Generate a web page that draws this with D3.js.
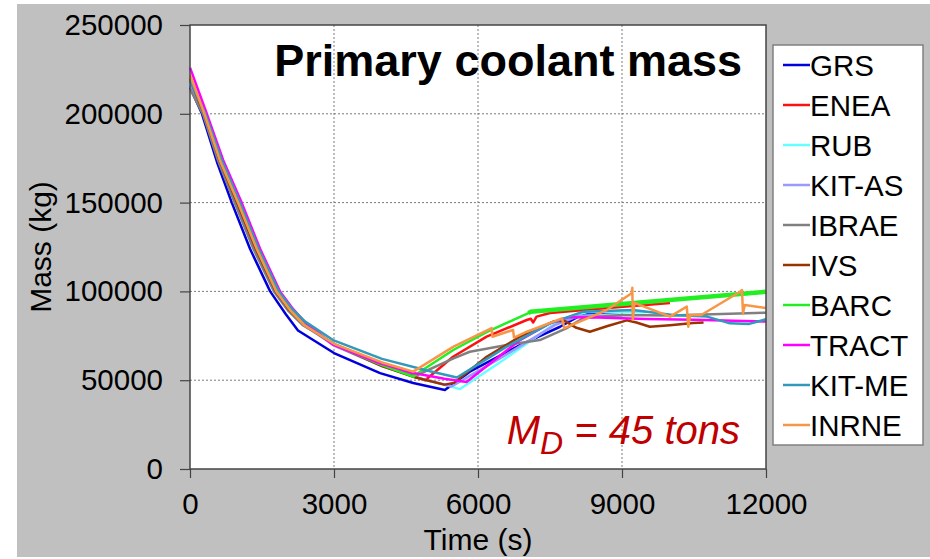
<!DOCTYPE html>
<html><head><meta charset="utf-8">
<script src="https://cdn.jsdelivr.net/npm/d3@7"></script>
<style>
body{margin:0;background:#fff;}
svg{display:block;}
text{font-family:"Liberation Sans",Arial,Helvetica,sans-serif;}
</style>
</head><body>
<svg id="chart" width="930" height="559"></svg>
<script>
// ---- data ----
const seriesNames = ["GRS","ENEA","RUB","KIT-AS","IBRAE","IVS","BARC","TRACT","KIT-ME","INRNE"];
const seriesColors = ["#0000dd","#ff1010","#66ffff","#9999ff","#808080","#993300","#22ee22","#ff00ff","#3399bb","#f79646"];
const xTickValues = [0,3000,6000,9000,12000];
const yTickValues = [0,50000,100000,150000,200000,250000];

const GRS = [[0,215000],[250,200000],[560,173000],[870,150000],[1250,124000],[1670,100000],[2000,87000],[2250,78000],[3000,65300],[3960,54000],[4650,48400],[5310,44500],[5830,54800],[6875,69800],[7710,80100],[8200,87500],[9000,88500]];
const ENEA = [[0,220000],[300,200000],[620,174000],[990,150000],[1380,124000],[1800,100000],[2100,89000],[2380,82000],[3000,70000],[4000,58500],[4900,50000],[5480,63200],[6180,74500],[7015,83900],[7100,84600],[7150,82500],[7220,85800],[7500,87800],[8500,90200],[10000,93500]];
const RUB = [[0,218000],[290,200000],[600,174000],[960,150000],[1350,124000],[1780,100000],[2080,89000],[2350,82000],[3000,70500],[4000,58500],[4650,52000],[5300,47500],[5625,45000],[6530,61400],[7710,83900],[8270,88400],[9000,88600],[9500,88300]];
const KITAS = [[0,216000],[280,200000],[590,174000],[940,150000],[1330,124000],[1760,100000],[2060,89000],[2350,81500],[3000,69500],[4000,58000],[4800,51000],[5450,46500],[6500,63000],[7600,81000],[8100,86300],[9000,86500]];
const IBRAE = [[0,214000],[270,200000],[580,174000],[930,150000],[1320,124000],[1750,100000],[2050,89000],[2350,81000],[3000,70500],[4000,59000],[4700,52500],[5490,62300],[5830,66000],[6600,69800],[7290,72600],[7850,79300],[8190,85000],[9000,86700],[10000,86500],[12000,88000]];
const IVS = [[0,219000],[300,200000],[615,174000],[980,150000],[1370,124000],[1790,100000],[2090,89000],[2380,81500],[3000,70000],[4000,58000],[4700,51500],[5300,47500],[5500,48500],[6180,63200],[6875,74500],[7570,83000],[7800,83500],[8050,79500],[8330,77300],[8700,80500],[9100,83700],[9300,82500],[9580,80100],[10000,81000],[10480,82200],[10700,82500]];
const BARC = [[0,221000],[310,200000],[630,174000],[1010,150000],[1400,124000],[1810,100000],[2110,89000],[2380,81800],[3000,70000],[4000,58500],[4650,52000],[4790,54800],[5485,67000],[6180,77100],[7050,87800],[7100,88600],[12000,99800]];
const TRACT = [[0,226000],[350,200000],[690,174000],[1076,150000],[1460,124000],[1875,100000],[2150,90000],[2400,82500],[2980,70000],[3960,59500],[4650,54000],[5300,50800],[5760,49000],[6875,72600],[7500,82100],[7900,85500],[8500,85300],[9500,84500],[10500,84000],[12000,83000]];
const KITME = [[0,219000],[320,200000],[660,174000],[1040,150000],[1430,124000],[1850,100000],[2130,90000],[2400,83000],[2980,72600],[4000,62000],[5000,55000],[5560,51500],[6600,68900],[7500,82000],[8190,88600],[9230,89500],[10060,86700],[10770,85800],[11250,82000],[11650,81700],[12000,84300]];
const INRNE = [[0,222000],[300,200000],[620,174000],[1000,150000],[1390,124000],[1800,100000],[2100,89000],[2380,81000],[3000,70500],[4000,60000],[4650,54800],[5490,68900],[6285,79300],[6300,74500],[6730,78300],[6750,74000],[7020,77300],[7750,84800],[7800,79300],[8680,89500],[9200,99000],[9215,102000],[9225,84000],[9260,93500],[10000,85800],[10350,91400],[10380,80100],[10420,86700],[10650,86700],[11460,99800],[11500,100800],[11520,87700],[11560,92300],[12000,90600]];

const seriesData = [GRS,ENEA,RUB,KITAS,IBRAE,IVS,BARC,TRACT,KITME,INRNE];

// ---- layout ----
const svg = d3.select("#chart");
const L = 190, R = 766, T = 25, B = 469;
const x = d3.scaleLinear().domain([0,12000]).range([L,R]);
const y = d3.scaleLinear().domain([0,250000]).range([B,T]);

svg.append("rect").attr("x",17).attr("y",4).attr("width",913).attr("height",553).attr("fill","#c0c0c0");
svg.append("rect").attr("x",L).attr("y",T).attr("width",R-L).attr("height",B-T).attr("fill","#fff");

// grid
const grid = svg.append("g").attr("stroke","#7a7a7a").attr("stroke-width",1).attr("stroke-dasharray","2,2");
grid.selectAll("line.h").data(yTickValues.filter(v=>v>0 && v<250000)).enter().append("line")
  .attr("x1",L).attr("x2",R).attr("y1",d=>y(d)).attr("y2",d=>y(d));
grid.selectAll("line.v").data(xTickValues.filter(v=>v>0 && v<12000)).enter().append("line")
  .attr("y1",T).attr("y2",B).attr("x1",d=>x(d)).attr("x2",d=>x(d));

// lines
const line = d3.line().x(d=>x(d[0])).y(d=>y(d[1]));
const plot = svg.append("g");
seriesData.forEach((s,i)=>{
  plot.append("path").attr("d",line(s)).attr("fill","none")
    .attr("stroke",seriesColors[i]).attr("stroke-width",2.5).attr("stroke-linejoin","round");
  if(seriesNames[i]==="BARC"){
    plot.append("path").attr("d",line(s.filter(d=>d[0]>=7050))).attr("fill","none")
      .attr("stroke",seriesColors[i]).attr("stroke-width",4.5);
  }
});

// frame
svg.append("rect").attr("x",L).attr("y",T).attr("width",R-L).attr("height",B-T)
  .attr("fill","none").attr("stroke","#444").attr("stroke-width",1.5);

// axes
const yAxis = svg.append("g").attr("transform",`translate(${L},0)`)
  .call(d3.axisLeft(y).tickValues(yTickValues).tickFormat(d3.format("d")).tickSize(10).tickPadding(17));
const xAxis = svg.append("g").attr("transform",`translate(0,${B})`)
  .call(d3.axisBottom(x).tickValues(xTickValues).tickFormat(d3.format("d")).tickSize(9).tickPadding(15));
[yAxis,xAxis].forEach(a=>{
  a.select(".domain").remove();
  a.selectAll(".tick line").attr("stroke","#444").attr("stroke-width",1.2);
  a.selectAll(".tick text").attr("fill","#000").style("font-size","29.5px")
    .style("font-family","'Liberation Sans',Arial,sans-serif");
});

// axis titles
svg.append("text").attr("x",(L+R)/2).attr("y",550).attr("text-anchor","middle")
  .style("font-size","30px").text("Time (s)");
svg.append("text").attr("transform",`translate(51,${(T+B)/2}) rotate(-90)`).attr("text-anchor","middle")
  .style("font-size","30px").text("Mass (kg)");

// title
svg.append("text").attr("x",742).attr("y",76).attr("text-anchor","end")
  .style("font-size","45px").style("font-weight","bold").text("Primary coolant mass");

// annotation
const ann = svg.append("text").attr("x",740).attr("y",444).attr("text-anchor","end")
  .attr("fill","#c00000").style("font-size","40px").style("font-style","italic");
ann.append("tspan").text("M");
ann.append("tspan").attr("dy",10).style("font-size","32px").text("D");
ann.append("tspan").attr("dy",-10).text(" = 45 tons");

// legend
const lg = svg.append("g");
lg.append("rect").attr("x",773).attr("y",45).attr("width",150).attr("height",400)
  .attr("fill","#fff").attr("stroke","#808080").attr("stroke-width",1.5);
seriesNames.forEach((n,i)=>{
  const cy = 65 + i*40;
  lg.append("line").attr("x1",783).attr("x2",810).attr("y1",cy).attr("y2",cy)
    .attr("stroke",seriesColors[i]).attr("stroke-width",2.5);
  lg.append("text").attr("x",810).attr("y",cy).attr("dy","0.36em")
    .style("font-size","29.5px").text(n);
});
</script>
</body></html>
